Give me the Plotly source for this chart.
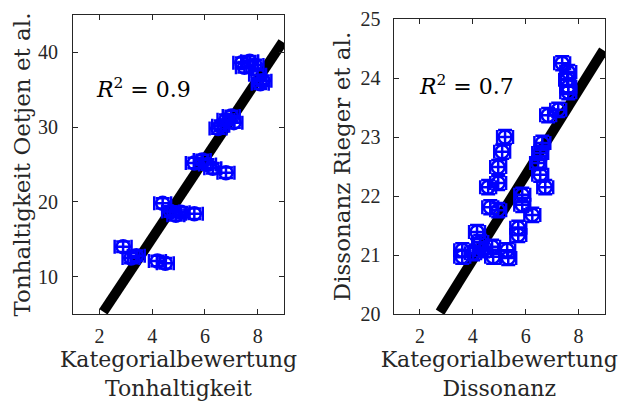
import plotly.graph_objects as go

# ---- Left panel: Tonhaltigkeit ----
ton_x = [7.4, 7.7, 7.9, 7.5, 8.0, 8.2, 8.1,
         6.6, 6.8, 7.0, 7.1, 6.5,
         5.6, 5.9, 6.1, 6.3, 6.8,
         4.4, 4.7, 4.9, 5.1, 5.6,
         2.9, 3.2, 3.4, 4.2, 4.5]
ton_y = [38.6, 38.8, 38.3, 38.0, 37.0, 36.2, 35.8,
         30.2, 31.0, 31.5, 30.6, 29.8,
         25.2, 25.6, 25.0, 24.5, 23.9,
         19.8, 18.7, 18.2, 18.6, 18.4,
         14.0, 12.5, 12.8, 12.1, 11.8]
ton_xerr = [0.32] * len(ton_x)
ton_yerr = [0.7] * len(ton_x)
ton_fit_x = [2.15, 8.95]
ton_fit_y = [5.3, 41.4]
ton_r2 = "0.9"

# ---- Right panel: Dissonanz ----
dis_x = [7.38, 7.61, 7.57, 7.61, 7.61, 6.85, 7.23,
         5.22, 5.11, 4.96, 6.63, 6.55, 6.47,
         6.55, 6.74, 4.96, 4.58, 4.66, 4.96,
         5.87, 5.87, 6.25, 5.72, 5.72,
         4.16, 4.28, 3.60, 3.60, 4.01, 4.39, 4.77, 5.30, 5.34, 4.73]
dis_y = [24.25, 24.10, 23.97, 23.85, 23.76, 23.37, 23.46,
         23.00, 22.75, 22.49, 22.90, 22.73, 22.56,
         22.36, 22.15, 22.22, 22.15, 21.81, 21.76,
         22.02, 21.85, 21.68, 21.46, 21.34,
         21.39, 21.22, 21.08, 20.97, 21.03, 21.08, 20.97, 21.08, 20.95, 21.14]
dis_xerr = [0.3] * len(dis_x)
dis_yerr = [0.12] * len(dis_x)
dis_fit_x = [2.76, 8.94]
dis_fit_y = [20.03, 24.47]
dis_r2 = "0.7"

x_ticks = [2, 4, 6, 8]
ton_yticks = [10, 20, 30, 40]
dis_yticks = [20, 21, 22, 23, 24, 25]

FONT = "'DejaVu Serif', 'Liberation Serif', serif"
TICKFONT = "'Liberation Serif', 'DejaVu Serif', serif"
AX = "#262626"
BLUE = "#0000FF"

fig = go.Figure()

def add_panel(xs, ys, xe, ye, fx, fy, xa, ya):
    fig.add_trace(go.Scatter(x=fx, y=fy, mode="lines",
                             line=dict(color="black", width=10),
                             xaxis=xa, yaxis=ya, showlegend=False, hoverinfo="skip"))
    fig.add_trace(go.Scatter(x=xs, y=ys, mode="markers",
                             marker=dict(symbol="circle-open", size=13, color=BLUE,
                                         line=dict(color=BLUE, width=2.5)),
                             error_x=dict(type="data", array=xe, visible=True,
                                          color=BLUE, thickness=2.5, width=7),
                             error_y=dict(type="data", array=ye, visible=True,
                                          color=BLUE, thickness=2.5, width=7),
                             xaxis=xa, yaxis=ya, showlegend=False))

add_panel(ton_x, ton_y, ton_xerr, ton_yerr, ton_fit_x, ton_fit_y, "x", "y")
add_panel(dis_x, dis_y, dis_xerr, dis_yerr, dis_fit_x, dis_fit_y, "x2", "y2")

W, H = 625, 401
axis_common = dict(showline=True, linecolor=AX, linewidth=1, mirror="ticks",
                   ticks="inside", ticklen=5, tickcolor=AX, tickwidth=1,
                   showgrid=False, zeroline=False,
                   automargin=False,
                   tickfont=dict(family=TICKFONT, size=20, color=AX))
TFONT = dict(family=FONT, size=22, color=AX)

fig.update_layout(
    template="none",
    width=W, height=H,
    margin=dict(l=0, r=0, t=0, b=0, autoexpand=False),
    plot_bgcolor="white", paper_bgcolor="white",
    font=dict(family=FONT, color=AX),
    xaxis=dict(domain=[73 / W, 284 / W], range=[1, 9], tickvals=x_ticks,
               anchor="y", ticklabelstandoff=4,
               title=dict(text="Kategorialbewertung<br>Tonhaltigkeit",
                          font=TFONT, standoff=2),
               **axis_common),
    yaxis=dict(domain=[(H - 314) / H, (H - 15) / H], range=[5, 45], tickvals=ton_yticks,
               anchor="x", ticklabelstandoff=10,
               title=dict(text="Tonhaltigkeit Oetjen et al.",
                          font=dict(family=FONT, size=23, color=AX), standoff=0),
               **axis_common),
    xaxis2=dict(domain=[393.5 / W, 605 / W], range=[1, 9], tickvals=x_ticks,
                anchor="y2", ticklabelstandoff=4,
                title=dict(text="Kategorialbewertung<br>Dissonanz",
                           font=TFONT, standoff=2),
                **axis_common),
    yaxis2=dict(domain=[(H - 314) / H, (H - 19) / H], range=[20, 25], tickvals=dis_yticks,
                anchor="x2", ticklabelstandoff=8,
                title=dict(text="Dissonanz Rieger et al.",
                           font=dict(family=FONT, size=23, color=AX), standoff=3),
                **axis_common),
    annotations=[
        dict(x=1.8, y=35.2, xref="x", yref="y", xanchor="left", yanchor="middle",
             text="<i>R</i><sup>2</sup> = " + ton_r2, showarrow=False,
             font=dict(family=FONT, size=22, color="black")),
        dict(x=1.9, y=23.88, xref="x2", yref="y2", xanchor="left", yanchor="middle",
             text="<i>R</i><sup>2</sup> = " + dis_r2, showarrow=False,
             font=dict(family=FONT, size=22, color="black")),
    ],
)

fig.write_html("out.html",
               config={"displayModeBar": False},
               post_script="document.body.style.margin='0';"
                           "document.body.style.overflow='hidden';")
